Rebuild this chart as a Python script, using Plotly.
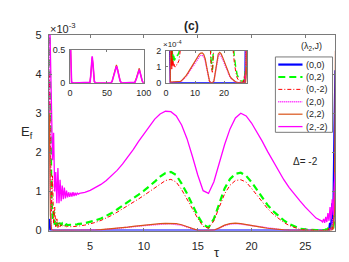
import plotly.graph_objects as go

W, H = 349, 262

# ---------------- data (E_f in units of 1e-3) ----------------
tau = [1.2, 1.3, 1.4, 1.5, 1.6, 1.7, 1.8, 1.9, 2.0, 2.1, 2.2, 2.3, 2.4, 2.5, 2.6, 2.7, 2.8, 2.9, 3.0,
       3.1, 3.2, 3.3, 3.4, 3.5, 3.6, 3.7, 3.8, 3.9, 4.0,
       4.5, 5.0, 5.5, 6.0, 6.5, 7.0, 7.5, 8.0, 8.5, 9.0, 9.5, 10.0, 10.5, 11.0, 11.5, 12.0, 12.5, 13.0,
       13.5, 14.0, 14.5, 15.0, 15.5, 16.0, 16.5, 17.0, 17.5, 18.0, 18.5, 19.0, 19.5, 20.0, 20.5, 21.0,
       21.5, 22.0, 22.5, 23.0, 23.5, 24.0, 24.5, 25.0, 25.5, 26.0, 26.5,
       26.6, 26.7, 26.8, 26.9, 27.0, 27.1, 27.2, 27.3, 27.4, 27.5, 27.6, 27.7, 27.8]

e_00 = [0.3, 0, 0, 0, 0, 0, 0, 0, 0, 0, 0, 0, 0, 0, 0, 0, 0, 0, 0,
        0, 0, 0, 0, 0, 0, 0, 0, 0, 0,
        0, 0, 0, 0, 0, 0, 0, 0, 0, 0, 0, 0, 0, 0, 0, 0, 0, 0,
        0, 0, 0, 0, 0, 0, 0, 0, 0, 0, 0, 0, 0, 0, 0, 0,
        0, 0, 0, 0, 0, 0, 0, 0, 0, 0, 0,
        0, 0, 0, 0, 0, 0, 0, 0.2, 0.05, 0.7, 0.2, 2.4, 4.1]

e_02 = [5.5, 2.0, 0.8, 0.3, 0.5, 0.15, 0.25, 0.12, 0.22, 0.15, 0.2, 0.13, 0.18, 0.14, 0.17, 0.14, 0.16, 0.14, 0.15,
        0.15, 0.15, 0.15, 0.15, 0.15, 0.16, 0.16, 0.16, 0.17, 0.17,
        0.19, 0.22, 0.26, 0.31, 0.37, 0.45, 0.54, 0.63, 0.72, 0.82, 0.92, 1.02, 1.13, 1.25, 1.38, 1.47, 1.5, 1.42,
        1.2, 0.95, 0.66, 0.38, 0.15, 0.08, 0.3, 0.7, 1.08, 1.32, 1.45, 1.48, 1.4, 1.24, 1.04, 0.83,
        0.65, 0.5, 0.37, 0.26, 0.17, 0.1, 0.05, 0.03, 0.015, 0.01, 0.01,
        0.01, 0.02, 0.01, 0.03, 0.02, 0.05, 0.02, 0.08, 0.03, 0.15, 0.05, 0.3, 0.6]

e_0m2 = [4.0, 1.45, 0.5, 1.4, 0.2, 0.6, 0.1, 0.3, 0.08, 0.2, 0.1, 0.15, 0.1, 0.13, 0.1, 0.12, 0.1, 0.11, 0.1,
         0.1, 0.1, 0.1, 0.1, 0.11, 0.11, 0.11, 0.12, 0.12, 0.12,
         0.14, 0.17, 0.21, 0.26, 0.32, 0.39, 0.47, 0.55, 0.63, 0.72, 0.81, 0.9, 1.0, 1.1, 1.2, 1.28, 1.31, 1.24,
         1.05, 0.82, 0.56, 0.31, 0.11, 0.06, 0.25, 0.6, 0.94, 1.16, 1.28, 1.3, 1.24, 1.08, 0.9, 0.72,
         0.56, 0.42, 0.31, 0.21, 0.13, 0.07, 0.03, 0.015, 0.01, 0.005, 0.005,
         0.01, 0.005, 0.02, 0.01, 0.04, 0.01, 0.06, 0.02, 0.1, 0.04, 0.2, 0.5, 0.9]

e_20 = [5.2, 1.0, 0.05, 0.003, 0.003, 0.003, 0.003, 0.003, 0.003, 0.003, 0.003, 0.003, 0.003, 0.003, 0.003, 0.003,
        0.003, 0.003, 0.003,
        0.003, 0.003, 0.003, 0.003, 0.003, 0.003, 0.003, 0.003, 0.003, 0.003,
        0.003, 0.007, 0.013, 0.021, 0.03, 0.041, 0.054, 0.068, 0.083, 0.098, 0.113, 0.128, 0.142, 0.154, 0.163,
        0.17, 0.172, 0.164,
        0.138, 0.092, 0.041, 0.007, 0, 0, 0.009, 0.064, 0.128, 0.165, 0.175, 0.166, 0.147, 0.124, 0.099, 0.075,
        0.055, 0.038, 0.025, 0.016, 0.009, 0.004, 0.002, 0.001, 0, 0, 0,
        0, 0, 0, 0, 0, 0, 0, 0.05, 0.02, 0.3, 0.1, 0.8, 2.0]

e_22 = [3.0, 0.4, 0.02, 0.004, 0.004, 0.004, 0.004, 0.004, 0.004, 0.004, 0.004, 0.004, 0.004, 0.004, 0.004, 0.004,
        0.004, 0.004, 0.004,
        0.004, 0.004, 0.004, 0.004, 0.004, 0.004, 0.004, 0.004, 0.004, 0.004,
        0.004, 0.008, 0.015, 0.024, 0.034, 0.046, 0.06, 0.075, 0.091, 0.108, 0.124, 0.14, 0.155, 0.168, 0.178,
        0.185, 0.187, 0.178,
        0.15, 0.1, 0.045, 0.008, 0, 0, 0.01, 0.07, 0.14, 0.18, 0.19, 0.18, 0.16, 0.135, 0.108, 0.082,
        0.06, 0.042, 0.028, 0.018, 0.01, 0.005, 0.002, 0.001, 0, 0, 0,
        0, 0, 0, 0, 0, 0, 0, 0, 0, 0.02, 0.05, 0.5, 4.6]

e_2m2 = [6.0, 4.6, 3.2, 1.8, 2.5, 1.0, 1.5, 0.7, 1.6, 0.7, 1.3, 0.75, 1.15, 0.8, 1.1, 0.82, 1.02, 0.85, 0.98,
         0.86, 0.97, 0.87, 0.98, 0.88, 0.97, 0.9, 0.96, 0.93, 0.95,
         0.98, 1.03, 1.1, 1.18, 1.28, 1.4, 1.54, 1.7, 1.88, 2.07, 2.28, 2.48, 2.68, 2.85, 2.98, 3.05, 3.04, 2.93,
         2.7, 2.35, 1.9, 1.42, 1.02, 0.95, 1.25, 1.72, 2.2, 2.6, 2.88, 3.0, 2.93, 2.75, 2.52, 2.28,
         2.02, 1.77, 1.52, 1.3, 1.1, 0.92, 0.76, 0.6, 0.45, 0.32, 0.25,
         0.22, 0.3, 0.2, 0.35, 0.22, 0.45, 0.25, 0.6, 0.3, 0.8, 0.4, 1.2, 1.5]

# long-time inset (tau 0..100)
tau_long = [0, 1, 2, 5, 10, 20, 25, 27, 28, 29, 30, 31, 32, 33, 35, 40, 50, 55, 57, 59, 61, 62, 63, 64, 66,
            68, 70, 80, 85, 88, 90, 92, 93, 94, 96, 98, 100]
long_22 = [0.8, 0.05, 0.01, 0, 0, 0, 0, 0.01, 0.1, 0.27, 0.38, 0.29, 0.12, 0.02, 0, 0, 0, 0, 0.02, 0.11, 0.22,
           0.26, 0.27, 0.23, 0.12, 0.03, 0, 0, 0, 0.01, 0.07, 0.17, 0.21, 0.22, 0.12, 0.03, 0]
long_2m2 = [0.8, 0.05, 0.01, 0, 0, 0, 0, 0.01, 0.1, 0.28, 0.4, 0.3, 0.12, 0.02, 0, 0, 0, 0, 0.02, 0.1, 0.2,
            0.24, 0.25, 0.22, 0.12, 0.03, 0, 0, 0, 0.01, 0.06, 0.15, 0.19, 0.2, 0.12, 0.03, 0]

names = ["(0,0)", "(0,2)", "(0,-2)", "(2,0)", "(2,2)", "(2,-2)"]
series = [e_00, e_02, e_0m2, e_20, e_22, e_2m2]
colors = ["#0000FF", "#00FF00", "#FF0000", "#FF00FF", "#D95319", "#FF00FF"]
dashes = ["solid", "7px,4px", "4px,2px,1px,2px", "1px,1px", "solid", "solid"]
widths = [2.2, 2.2, 1.0, 1.4, 1.2, 1.3]

x_ticks = [5, 10, 15, 20, 25]
y_ticks = [0, 1, 2, 3, 4, 5]

# ---------------- figure ----------------
fig = go.Figure()

for nm, ys, c, d, w in zip(names, series, colors, dashes, widths):
    fig.add_trace(go.Scatter(x=tau, y=ys, mode="lines", name=nm, showlegend=False,
                             line=dict(color=c, dash=d, width=w), xaxis="x", yaxis="y"))

# inset 1: long-time evolution
fig.add_trace(go.Scatter(x=tau_long, y=long_22, mode="lines", showlegend=False,
                         line=dict(color="#D95319", width=1.2), xaxis="x2", yaxis="y2"))
fig.add_trace(go.Scatter(x=tau_long, y=long_2m2, mode="lines", showlegend=False,
                         line=dict(color="#FF00FF", width=1.6), xaxis="x2", yaxis="y2"))

# inset 2: zoom of small values (units of 1e-4)
for nm, ys, c, d, w in zip(names, series, colors, dashes, widths):
    fig.add_trace(go.Scatter(x=tau, y=[v * 10 for v in ys], mode="lines", showlegend=False,
                             line=dict(color=c, dash=d, width=min(w, 1.4)), xaxis="x3", yaxis="y3"))

AX = "#7a7a7a"
TXT = "#262626"
FONT = "Liberation Sans, Arial, sans-serif"


def axstyle(**kw):
    d = dict(showline=True, linecolor=AX, linewidth=1, mirror="ticks", ticks="inside", ticklen=3,
             tickcolor=AX, showgrid=False, zeroline=False, tickfont=dict(size=11, color=TXT, family=FONT))
    d.update(kw)
    return d


fig.update_layout(
    width=W, height=H, margin=dict(l=0, r=0, t=0, b=0),
    paper_bgcolor="white", plot_bgcolor="white",
    font=dict(family=FONT, color=TXT),
    xaxis=axstyle(domain=[39 / W, 335 / W], range=[1.15, 27.8], tickvals=x_ticks, anchor="y",
                  ticklabelstandoff=5),
    yaxis=axstyle(domain=[35 / H, 240 / H], range=[0, 5], tickvals=y_ticks, anchor="x",
                  ticklabelstandoff=4),
    xaxis2=axstyle(domain=[61 / W, 137 / W], range=[0, 100], tickvals=[0, 50, 100], anchor="y2",
                   tickfont=dict(size=9, color=TXT, family=FONT), ticklen=2, ticklabelstandoff=1),
    yaxis2=axstyle(domain=[(H - 72.3) / H, (H - 37.3) / H], range=[0, 0.5], tickvals=[0, 0.5],
                   ticktext=["0", "0.5"], anchor="x2", tickfont=dict(size=9, color=TXT, family=FONT),
                   ticklen=2, ticklabelstandoff=2),
    xaxis3=axstyle(domain=[160 / W, 244 / W], range=[0, 28], tickvals=[0, 10, 20], anchor="y3",
                   tickfont=dict(size=9, color=TXT, family=FONT), ticklen=2, ticklabelstandoff=1),
    yaxis3=axstyle(domain=[(H - 72) / H, (H - 38.5) / H], range=[0, 2], tickvals=[0, 1, 2], anchor="x3",
                   tickfont=dict(size=9, color=TXT, family=FONT), ticklen=2, ticklabelstandoff=2),
)

ann = [
    dict(x=186 / W, y=1 - 13 / H, text="<b>(c)</b>", font=dict(size=12)),
    dict(x=38 / W, y=1 - 15 / H, text="×10<sup>-3</sup>", font=dict(size=11), xanchor="left"),
    dict(x=155 / W, y=1 - 31 / H, text="×10<sup>-4</sup>", font=dict(size=8), xanchor="left"),
    dict(x=17 / W, y=1 - 124 / H, text="E<sub>f</sub>", font=dict(size=13)),
    dict(x=213 / W, y=1 - 250 / H, text="τ", font=dict(size=13)),
    dict(x=304 / W, y=1 - 155 / H, text="Δ= -2", font=dict(size=10)),
    dict(x=310 / W, y=1 - 34 / H, text="(λ<sub>2</sub>,J)", font=dict(size=9)),
]
for a in ann:
    a.setdefault("xanchor", "center")
    fig.add_annotation(xref="paper", yref="paper", showarrow=False, yanchor="middle", **a)

# legend box (MATLAB-style compact legend)
lx0, lx1, ly0, ly1 = 273, 332, 45, 124
fig.add_shape(type="rect", xref="paper", yref="paper", x0=lx0 / W, x1=lx1 / W, y0=1 - ly1 / H, y1=1 - ly0 / H,
              line=dict(color=AX, width=1), fillcolor="white", layer="below")
for i, (nm, c, d, w) in enumerate(zip(names, colors, dashes, widths)):
    yc = 53 + i * 13
    fig.add_shape(type="line", xref="paper", yref="paper", x0=276 / W, x1=301 / W, y0=1 - yc / H, y1=1 - yc / H,
                  line=dict(color=c, dash=d, width=w))
    fig.add_annotation(xref="paper", yref="paper", x=303 / W, y=1 - yc / H, text=nm, showarrow=False,
                       xanchor="left", yanchor="middle", font=dict(size=9))

fig.write_html("out.html")
